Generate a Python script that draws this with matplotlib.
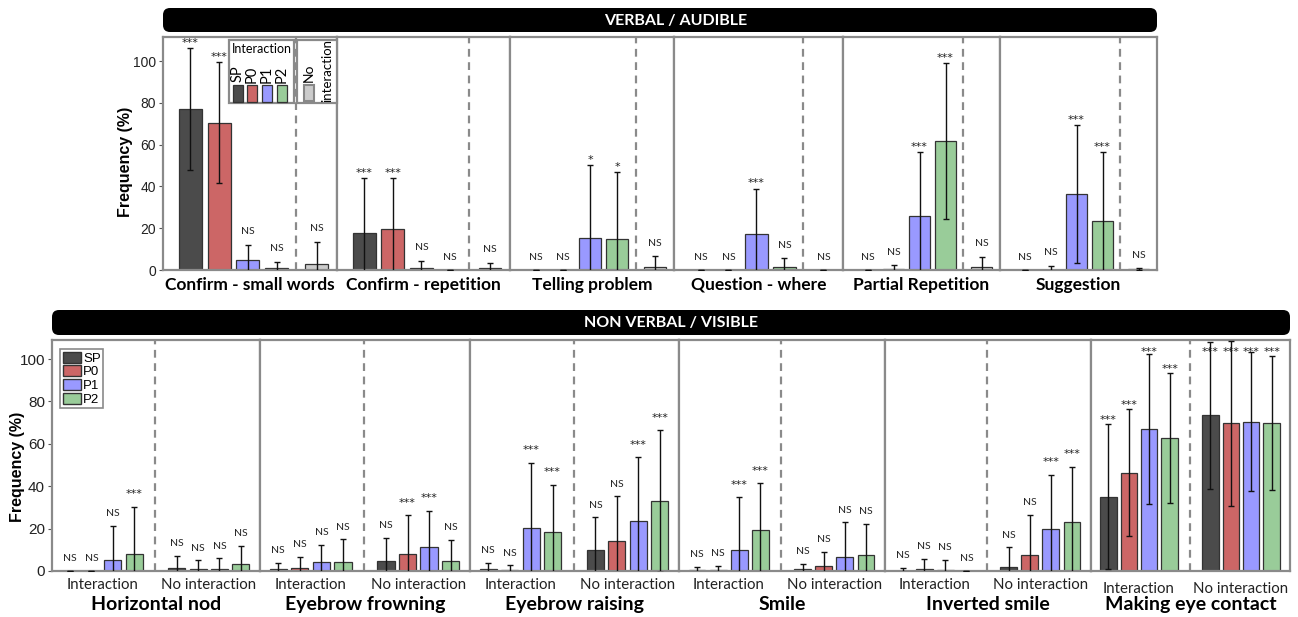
import matplotlib
matplotlib.use("Agg")
import matplotlib.pyplot as plt
from matplotlib.patches import FancyBboxPatch, Rectangle, Patch

# === Data ===
groups = ["SP", "P0", "P1", "P2"]
group_colors = ["#4b4b4b", "#cc6666", "#9999ff", "#99cc99"]
none_color = "#cccccc"

verbal_titles = ["Confirm - small words", "Confirm - repetition", "Telling problem",
                 "Question - where", "Partial Repetition", "Suggestion"]
verbal_mean = [[77, 70.5, 5, 1], [17.5, 19.5, 1, 0], [0, 0, 15.2, 14.8],
               [0, 0, 17, 1.6], [0, 0.3, 26, 61.7], [0, 0.2, 36.2, 23.4]]
verbal_sd = [[29, 29, 7, 3], [26.5, 24.5, 3.5, 0], [0, 0, 35, 32],
             [0, 0, 22, 4], [0, 2, 30.6, 37.2], [0, 1.8, 33, 33.2]]
verbal_sig = [["***", "***", "NS", "NS"], ["***", "***", "NS", "NS"], ["NS", "NS", "*", "*"],
              ["NS", "NS", "***", "NS"], ["NS", "NS", "***", "***"], ["NS", "NS", "***", "***"]]
verbal_none_mean = [3, 1, 1.6, 0, 1.3, 0.3]
verbal_none_sd = [10.5, 2.5, 5, 0, 5, 0.5]
verbal_none_sig = ["NS", "NS", "NS", "NS", "NS", "NS"]

visible_titles = ["Horizontal nod", "Eyebrow frowning", "Eyebrow raising", "Smile",
                  "Inverted smile", "Making eye contact"]
visible_conditions = ["Interaction", "No interaction"]
visible_int_mean = [[0, 0, 5.4, 8.2], [1.1, 1.6, 4.3, 4.4], [1, 0.6, 20.3, 18.3],
                    [0.3, 0.4, 9.9, 19.5], [0.2, 1, 0.6, 0], [35.1, 46.3, 67, 62.8]]
visible_int_sd = [[0, 0, 16, 22], [2.9, 5, 8.2, 10.6], [3, 2.1, 30.7, 22.5],
                  [1.8, 2.1, 24.8, 21.9], [1.4, 4.7, 4.6, 0], [34.3, 30, 35.3, 30.6]]
visible_int_sig = [["NS", "NS", "NS", "***"], ["NS", "NS", "NS", "NS"], ["NS", "NS", "***", "***"],
                   ["NS", "NS", "***", "***"], ["NS", "NS", "NS", "NS"], ["***", "***", "***", "***"]]
visible_noint_mean = [[1.4, 1.1, 1.1, 3.5], [4.7, 8, 11.5, 4.9], [9.9, 14, 23.8, 32.8],
                      [0.8, 2.5, 6.5, 7.6], [1.9, 7.7, 19.7, 23.3], [73.4, 69.6, 70.4, 69.8]]
visible_noint_sd = [[5.7, 3.9, 4.8, 8.3], [10.9, 18.2, 17, 9.8], [15.5, 21.3, 29.8, 33.5],
                    [2.7, 6.5, 16.4, 14.8], [9.4, 18.9, 25.8, 26], [34.6, 38.9, 32.8, 31.8]]
visible_noint_sig = [["NS", "NS", "NS", "NS"], ["NS", "***", "***", "NS"], ["NS", "NS", "***", "***"],
                     ["NS", "NS", "NS", "NS"], ["NS", "NS", "***", "***"], ["***", "***", "***", "***"]]

# === Layout (pixels) ===
W, H = 1298, 617
FRAME = "#8a8a8a"
EDGE = "#333333"
CAL = "Lato"
ARIAL = "Liberation Sans"

top_edges = [163, 337, 510, 674, 843, 1000, 1157]
top_y = (37, 270)
bot_edges = [52, 260, 470, 679, 885, 1091, 1290]
bot_y = (340, 571)


def rect(x0, y0, x1, y1):
    return [x0 / W, 1 - y1 / H, (x1 - x0) / W, (y1 - y0) / H]


def style_frame(ax, first, fs):
    for sp in ax.spines.values():
        sp.set_color(FRAME)
        sp.set_linewidth(1.6)
    if first:
        ax.set_yticks([0, 20, 40, 60, 80, 100])
        ax.tick_params(axis="y", direction="out", length=3, color="#555555",
                       labelsize=fs, labelcolor="#222222", pad=2)
        for t in ax.get_yticklabels():
            t.set_family(ARIAL)
    else:
        ax.set_yticks([])


def draw_group(ax, xs, means, sds, sigs, colors, gap_ns, gap_star, cap=None):
    ax.bar(xs, means, width=0.8, color=colors, edgecolor=EDGE, linewidth=0.9, zorder=2)
    ax.errorbar(xs, means, yerr=sds, fmt="none", ecolor="#111111", elinewidth=1,
                capsize=2, capthick=1, zorder=3)
    for x, m, s, sig in zip(xs, means, sds, sigs):
        star = "*" in sig
        y = m + s + (gap_star if star else gap_ns)
        if cap is not None:
            y = min(y, cap)
        if star:
            ax.text(x, y, sig, ha="center", va="baseline", fontsize=8,
                    family="DejaVu Sans", color="#222222", zorder=4)
        else:
            ax.text(x, y, sig, ha="center", va="baseline", fontsize=7.5,
                    family=CAL, color="#222222", zorder=4)


fig = plt.figure(figsize=(W / 100, H / 100), dpi=100)

# --- Verbal / audible ---
for i, title in enumerate(verbal_titles):
    ax = fig.add_axes(rect(top_edges[i], top_y[0], top_edges[i + 1], top_y[1]))
    draw_group(ax, [0, 1, 2, 3], verbal_mean[i], verbal_sd[i], verbal_sig[i],
               group_colors, 5, 1.0)
    draw_group(ax, [4.4], [verbal_none_mean[i]], [verbal_none_sd[i]],
               [verbal_none_sig[i]], [none_color], 5, 1.0)
    ax.axvline(3.68, color=FRAME, lw=1.6, linestyle=(0, (3.5, 2.5)), zorder=1)
    ax.set_xlim(-0.95, 5.1)
    ax.set_ylim(0, 111.5)
    ax.set_xticks([])
    style_frame(ax, i == 0, 10)
    ax.text(0.5, -0.064, title, transform=ax.transAxes, ha="center", va="center",
            fontsize=12.5, weight="bold", family=CAL)
    if i == 0:
        ax.set_ylabel("Frequency (%)", fontsize=11.5, weight="bold", family=ARIAL, va="center")
        ax.yaxis.set_label_coords((125 - 163) / 174, 0.464)

# --- Non verbal / visible ---
for i, title in enumerate(visible_titles):
    ax = fig.add_axes(rect(bot_edges[i], bot_y[0], bot_edges[i + 1], bot_y[1]))
    eye = title == "Making eye contact"
    gap_star = 0.5 if eye else 4.5
    draw_group(ax, [0, 1, 2, 3], visible_int_mean[i], visible_int_sd[i], visible_int_sig[i],
               group_colors, 4.5, gap_star, cap=102)
    draw_group(ax, [5, 6, 7, 8], visible_noint_mean[i], visible_noint_sd[i], visible_noint_sig[i],
               group_colors, 4.5, gap_star, cap=102)
    ax.axvline(4.0, color=FRAME, lw=1.6, linestyle=(0, (3.5, 2.5)), zorder=1)
    ax.set_xlim(-0.85, 8.9)
    ax.set_ylim(0, 109)
    ax.set_xticks([1.5, 6.5])
    ax.set_xticklabels(visible_conditions, fontsize=10.8, family=CAL, color="#222222")
    ax.tick_params(axis="x", length=0, pad=8 if eye else 5)
    style_frame(ax, i == 0, 11)
    ax.text(0.5, -0.143, title, transform=ax.transAxes, ha="center", va="center",
            fontsize=14, weight="bold", family=CAL)
    if i == 0:
        ax.set_ylabel("Frequency (%)", fontsize=11.5, weight="bold", family=ARIAL, va="center")
        ax.yaxis.set_label_coords((18 - 52) / 208, 0.45)
        handles = [Patch(facecolor=c, edgecolor=EDGE, label=g) for g, c in zip(groups, group_colors)]
        leg = ax.legend(handles=handles, loc="upper left", bbox_to_anchor=(0.038, 0.961),
                        borderaxespad=0, handlelength=1.4, handleheight=0.9,
                        handletextpad=0.15, labelspacing=0.05, borderpad=0.2,
                        fancybox=False, framealpha=1, edgecolor=FRAME,
                        prop={"family": ARIAL, "size": 9.5})
        leg.get_frame().set_linewidth(1.2)

# --- Overlay: headers and the verbal legend ---
ov = fig.add_axes([0, 0, 1, 1], zorder=10)
ov.set_xlim(0, W)
ov.set_ylim(H, 0)
ov.axis("off")
ov.patch.set_visible(False)

ov.add_patch(FancyBboxPatch((163, 8), 994, 24, boxstyle="round,pad=0,rounding_size=7",
                            fc="black", ec="none"))
ov.text(676, 20.5, "VERBAL / AUDIBLE", color="white", weight="bold", ha="center",
        va="center", fontsize=11.5, family=CAL)
ov.add_patch(FancyBboxPatch((52, 310), 1238, 25, boxstyle="round,pad=0,rounding_size=7",
                            fc="black", ec="none"))
ov.text(671, 323, "NON VERBAL / VISIBLE", color="white", weight="bold", ha="center",
        va="center", fontsize=11.5, family=CAL)

ov.add_patch(Rectangle((229, 40), 65, 63, fc="white", ec=FRAME, lw=1.6))
ov.add_patch(Rectangle((297, 40), 40, 63, fc="white", ec=FRAME, lw=1.6))
ov.text(261.5, 49, "Interaction", ha="center", va="center", fontsize=9, family=CAL)
for g, c, x in zip(groups, group_colors, [238, 252, 267, 282]):
    ov.text(x, 74, g, rotation=90, ha="center", va="center", fontsize=10.5, family=CAL)
    ov.add_patch(Rectangle((x - 5, 85), 10, 17, fc=c, ec=EDGE, lw=0.9))
ov.add_patch(Rectangle((303.5, 85), 10, 16, fc=none_color, ec="#888888", lw=1.5))
ov.text(308.5, 73, "No", rotation=90, ha="center", va="center", fontsize=10, family=CAL)
ov.text(327, 71, "interaction", rotation=90, ha="center", va="center", fontsize=9.5, family=CAL)

fig.savefig("out.png", dpi=100)
